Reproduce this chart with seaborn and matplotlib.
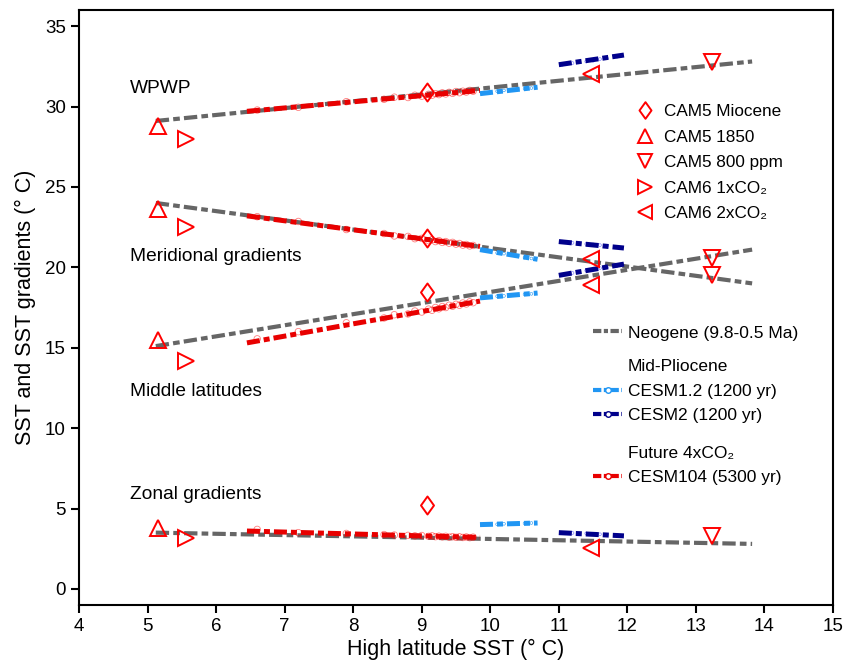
import matplotlib

matplotlib.use("Agg")
import matplotlib.pyplot as plt
import pandas as pd
import seaborn as sns
from matplotlib.lines import Line2D
from matplotlib.path import Path

# --- data -------------------------------------------------------------------
panels = ["WPWP", "Meridional", "Middle", "Zonal"]
panel_labels = ["WPWP", "Meridional gradients", "Middle latitudes", "Zonal gradients"]
panel_label_y = [31.1, 20.7, 12.3, 5.9]

# single simulations (x = high latitude SST, y per panel)
cam_names = ["CAM5 Miocene", "CAM5 1850", "CAM5 800 ppm", "CAM6 1xCO₂", "CAM6 2xCO₂"]
cam_x = [9.08, 5.15, 13.24, 5.56, 11.47]
cam_wpwp = [30.9, 28.8, 32.75, 28.0, 32.0]
cam_merid = [21.85, 23.65, 20.6, 22.5, 20.5]
cam_middle = [18.45, 15.45, 19.5, 14.2, 18.9]
cam_zonal = [5.2, 3.8, 3.3, 3.15, 2.55]

# Neogene proxy regressions (end points)
neo_x = [5.12, 13.82]
neo_wpwp = [29.1, 32.8]
neo_merid = [24.0, 19.0]
neo_middle = [15.1, 21.1]
neo_zonal = [3.5, 2.8]

# CESM104 4xCO2 time means + regression end points
c104_x = [6.6, 7.2, 7.9, 8.45, 8.6, 8.8, 8.9, 9.0, 9.1, 9.15, 9.2, 9.25,
          9.3, 9.35, 9.4, 9.45, 9.5, 9.55, 9.6, 9.65, 9.7, 9.75]
c104_wpwp = [29.78, 29.95, 30.3, 30.45, 30.58, 30.56, 30.7, 30.64, 30.76, 30.7, 30.8, 30.74,
             30.85, 30.78, 30.88, 30.82, 30.93, 30.86, 30.95, 30.9, 31.0, 30.95]
c104_merid = [23.15, 22.85, 22.35, 22.1, 21.95, 21.92, 21.78, 21.8, 21.66, 21.72, 21.6, 21.66,
              21.55, 21.6, 21.5, 21.55, 21.44, 21.48, 21.38, 21.42, 21.33, 21.36]
c104_middle = [15.55, 16.0, 16.55, 16.85, 17.05, 17.1, 17.28, 17.22, 17.4, 17.33, 17.5, 17.42,
               17.56, 17.5, 17.64, 17.58, 17.7, 17.64, 17.78, 17.72, 17.85, 17.8]
c104_zonal = [3.7, 3.5, 3.45, 3.38, 3.35, 3.33, 3.3, 3.32, 3.27, 3.3, 3.25, 3.28,
              3.24, 3.27, 3.22, 3.25, 3.21, 3.24, 3.2, 3.23, 3.19, 3.22]
c104_line_x = [6.45, 9.85]
c104_line = {"WPWP": [29.7, 31.0], "Meridional": [23.2, 21.3],
             "Middle": [15.3, 17.9], "Zonal": [3.6, 3.2]}

# Mid-Pliocene CESM1.2 / CESM2
c12_x = [9.9, 10.0, 10.1, 10.2, 10.3, 10.4, 10.5, 10.6]
c12_wpwp = [30.85, 30.9, 30.95, 31.0, 31.02, 31.08, 31.1, 31.15]
c12_merid = [21.05, 21.0, 20.9, 20.85, 20.75, 20.7, 20.6, 20.55]
c12_middle = [18.1, 18.15, 18.2, 18.22, 18.25, 18.3, 18.32, 18.35]
c12_zonal = [4.0, 4.02, 4.02, 4.05, 4.05, 4.07, 4.08, 4.1]
c12_line_x = [9.85, 10.69]
c12_line = {"WPWP": [30.8, 31.2], "Meridional": [21.1, 20.5],
            "Middle": [18.1, 18.4], "Zonal": [4.0, 4.1]}

c2_x = [11.05, 11.2, 11.3, 11.4, 11.5, 11.6, 11.7, 11.85]
c2_wpwp = [32.6, 32.7, 32.75, 32.8, 32.85, 32.95, 33.0, 33.1]
c2_merid = [21.6, 21.52, 21.5, 21.45, 21.42, 21.38, 21.33, 21.25]
c2_middle = [19.55, 19.65, 19.7, 19.8, 19.85, 19.95, 20.0, 20.1]
c2_zonal = [3.5, 3.48, 3.45, 3.45, 3.42, 3.4, 3.38, 3.35]
c2_line_x = [11.0, 11.95]
c2_line = {"WPWP": [32.6, 33.2], "Meridional": [21.6, 21.2],
           "Middle": [19.5, 20.2], "Zonal": [3.5, 3.3]}

# --- tidy frames --------------------------------------------------------------
cam_df = pd.DataFrame({"name": cam_names, "x": cam_x, "WPWP": cam_wpwp,
                       "Meridional": cam_merid, "Middle": cam_middle, "Zonal": cam_zonal})
neo_df = pd.DataFrame({"x": neo_x, "WPWP": neo_wpwp, "Meridional": neo_merid,
                       "Middle": neo_middle, "Zonal": neo_zonal})
c104_df = pd.DataFrame({"x": c104_x, "WPWP": c104_wpwp, "Meridional": c104_merid,
                        "Middle": c104_middle, "Zonal": c104_zonal})
c12_df = pd.DataFrame({"x": c12_x, "WPWP": c12_wpwp, "Meridional": c12_merid,
                       "Middle": c12_middle, "Zonal": c12_zonal})
c2_df = pd.DataFrame({"x": c2_x, "WPWP": c2_wpwp, "Meridional": c2_merid,
                      "Middle": c2_middle, "Zonal": c2_zonal})

# --- style ------------------------------------------------------------------
sns.set_style("ticks")
plt.rcParams["font.family"] = ["Liberation Sans", "DejaVu Sans"]
plt.rcParams["axes.linewidth"] = 1.5
for key in ["text.color", "axes.labelcolor", "xtick.color", "ytick.color", "axes.edgecolor"]:
    plt.rcParams[key] = "black"

RED = "#ff0000"
RED_LINE = "#e80000"
LIGHT_BLUE = "#2196f3"
DARK_BLUE = "#00008b"
GREY = "#666666"
NEO_DASH = (3.2, 1.0, 1.6, 1.0)
MOD_DASH = (2.6, 0.8, 1.2, 0.8)

# diamond a bit taller than wide
DIAMOND = Path([(0, 1), (0.72, 0), (0, -1), (-0.72, 0), (0, 1)],
               [Path.MOVETO, Path.LINETO, Path.LINETO, Path.LINETO, Path.CLOSEPOLY])
cam_markers = [DIAMOND, "^", "v", ">", "<"]
cam_sizes = [13, 11, 11, 11, 11]

fig = plt.figure(figsize=(8.45, 6.68), dpi=100)
ax = fig.add_axes([0.0935, 0.0943, 0.8923, 0.8907])

for p in panels:
    # model time means
    sns.scatterplot(data=c104_df, x="x", y=p, ax=ax, marker="o", s=22,
                    facecolor="none", edgecolor=RED, linewidth=0.6, alpha=0.5,
                    legend=False, zorder=3)
    sns.scatterplot(data=c12_df, x="x", y=p, ax=ax, marker="o", s=4,
                    facecolor="none", edgecolor=LIGHT_BLUE, linewidth=0.4,
                    legend=False, zorder=3)
    sns.scatterplot(data=c2_df, x="x", y=p, ax=ax, marker="o", s=4,
                    facecolor="none", edgecolor="#6a6aff", linewidth=0.4,
                    legend=False, zorder=3)
    # regressions
    l, = ax.plot(neo_df["x"], neo_df[p], color=GREY, lw=3.0, zorder=2)
    l.set_dashes(NEO_DASH)
    l, = ax.plot(c104_line_x, c104_line[p], color=RED_LINE, lw=3.6, zorder=4)
    l.set_dashes(MOD_DASH)
    l, = ax.plot(c12_line_x, c12_line[p], color=LIGHT_BLUE, lw=3.6, zorder=4)
    l.set_dashes(MOD_DASH)
    l, = ax.plot(c2_line_x, c2_line[p], color=DARK_BLUE, lw=3.6, zorder=4)
    l.set_dashes(MOD_DASH)
    # single CAM runs
    for name, mk, ms in zip(cam_names, cam_markers, cam_sizes):
        row = cam_df[cam_df["name"] == name]
        ax.plot(row["x"], row[p], ls="none", marker=mk, ms=ms,
                mfc="none", mec=RED, mew=1.4, zorder=5)

for txt, ty in zip(panel_labels, panel_label_y):
    ax.text(4.75, ty, txt, fontsize=13.8, ha="left", va="center")

ax.set_xlim(4, 15)
ax.set_ylim(-1, 36)
ax.set_xticks(range(4, 16))
ax.set_yticks(range(0, 36, 5))
ax.tick_params(axis="both", direction="out", length=6, width=1.5, labelsize=13.5,
               top=False, right=False)
ax.set_xlabel("High latitude SST (° C)", fontsize=15.5, labelpad=3)
ax.set_ylabel("SST and SST gradients (° C)", fontsize=15.5, labelpad=6)

# legends
cam_handles = [Line2D([], [], ls="none", marker=mk, ms=ms - 1,
                      mfc="none", mec=RED, mew=1.4)
               for mk, ms in zip(cam_markers, cam_sizes)]
leg1 = ax.legend(cam_handles, cam_names, loc="upper left", bbox_to_anchor=(0.7387, 0.842),
                 frameon=False, fontsize=12.3, handlelength=1.0, handletextpad=0.65,
                 labelspacing=0.62, borderpad=0, borderaxespad=0)
ax.add_artist(leg1)


def model_handle(color):
    h = Line2D([], [], color=color, lw=3.0, marker="o", ms=4, mfc="white",
               mec=color, mew=1.0)
    h.set_dashes((2.0, 0.6, 1.0, 0.6))
    return h


neo_h = Line2D([], [], color=GREY, lw=3.0)
neo_h.set_dashes((2.0, 0.6, 1.0, 0.6))
blank = Line2D([], [], color="none")
leg_kw = dict(loc="upper left", frameon=False, fontsize=12.5, handlelength=1.67,
              handletextpad=0.35, labelspacing=0.52, borderpad=0, borderaxespad=0,
              numpoints=1)

leg2 = ax.legend([neo_h], ["Neogene (9.8-0.5 Ma)"], bbox_to_anchor=(0.6817, 0.470), **leg_kw)
ax.add_artist(leg2)
leg3 = ax.legend([blank, model_handle(LIGHT_BLUE), model_handle(DARK_BLUE)],
                 ["Mid-Pliocene", "CESM1.2 (1200 yr)", "CESM2 (1200 yr)"],
                 bbox_to_anchor=(0.6817, 0.413), **leg_kw)
ax.add_artist(leg3)
leg4 = ax.legend([blank, model_handle(RED_LINE)],
                 ["Future 4xCO₂", "CESM104 (5300 yr)"],
                 bbox_to_anchor=(0.6817, 0.268), **leg_kw)

fig.savefig("out.png", dpi=100)
